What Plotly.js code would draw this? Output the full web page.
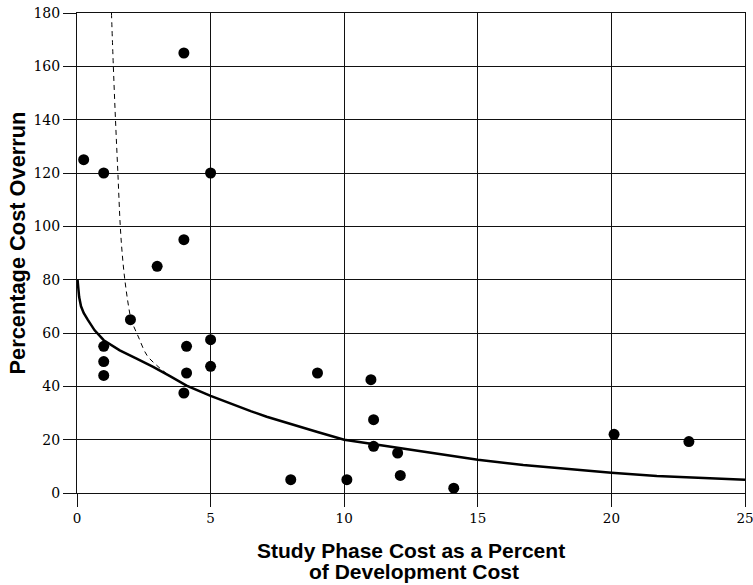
<!DOCTYPE html>
<html>
<head>
<meta charset="utf-8">
<script src="https://cdn.plot.ly/plotly-3.0.1.min.js"></script>
<style>html,body{margin:0;padding:0;background:#fff;}#chart{width:753px;height:585px;}</style>
</head>
<body>
<div id="chart"></div>
<script>
// Observed projects
const pointsX = [0.25, 1.0, 4.0, 5.0, 4.0, 3.0, 2.0, 1.0, 1.0, 1.0, 4.1, 4.1, 4.0, 5.0, 5.0, 9.0, 11.0, 11.1, 11.1, 12.0, 12.1, 8.0, 10.1, 14.1, 20.1, 22.9];
const pointsY = [125, 120, 165, 120, 95, 85, 65, 55, 49.3, 44.1, 55, 45, 37.5, 57.5, 47.5, 45, 42.5, 27.5, 17.5, 15, 6.6, 5, 5, 1.8, 22, 19.3];

// Solid fitted curve
const solidX = [0.02, 0.08, 0.15, 0.25, 0.4, 0.66, 1.0, 1.6, 2.23, 2.85, 3.48, 4.1, 5.0, 5.85, 6.5, 7.1, 8.0, 9.0, 10.0, 11.1, 12.1, 13.5, 15.0, 16.7, 18.3, 20.0, 21.7, 23.3, 25.0];
const solidY = [80, 73.5, 70, 67.5, 65, 61, 57.3, 53.5, 50.4, 47.3, 43.8, 40.3, 36.4, 33, 30.7, 28.6, 25.8, 22.9, 20, 18.3, 16.7, 14.6, 12.5, 10.5, 9, 7.6, 6.4, 5.6, 5.0];

// Dashed curve
const dashX = [1.29, 1.36, 1.44, 1.53, 1.62, 1.69, 1.79, 1.93, 2.03, 2.3, 2.62, 2.98, 3.35, 3.85, 4.2];
const dashY = [180, 160, 140, 120, 100, 90, 80, 70, 65, 58.5, 51.6, 47.9, 44.8, 41.6, 39.8];

const xTicks = [0, 5, 10, 15, 20, 25];
const yTicks = [0, 20, 40, 60, 80, 100, 120, 140, 160, 180];

const xTitleLines = ['Study Phase Cost as a Percent', 'of Development Cost'];
const yTitle = 'Percentage Cost Overrun';

const traces = [
  {x: dashX, y: dashY, mode: 'lines', line: {color: '#000', width: 1, dash: '5px,4px', shape: 'spline', smoothing: 1}, hoverinfo: 'skip'},
  {x: solidX, y: solidY, mode: 'lines', line: {color: '#000', width: 2.5, shape: 'linear'}, hoverinfo: 'skip'},
  {x: pointsX, y: pointsY, mode: 'markers', marker: {color: '#000', size: 11}}
];

const tickFont = {family: 'DejaVu Serif', size: 14, color: '#000'};

const axisCommon = {
  showgrid: true, gridcolor: '#111', gridwidth: 1,
  zeroline: false,
  showline: true, linecolor: '#111', linewidth: 1, mirror: true,
  ticks: 'outside', ticklen: 13, tickcolor: '#111', tickwidth: 1,
  tickfont: tickFont, ticklabeloverflow: 'allow'
};

const titleFont = {family: 'Liberation Sans', color: '#000', weight: 'bold'};

const layout = {
  width: 753, height: 585,
  margin: {l: 77, r: 8, t: 13, b: 92},
  paper_bgcolor: '#fff', plot_bgcolor: '#fff',
  showlegend: false,
  xaxis: Object.assign({}, axisCommon, {
    range: [0, 25], tickvals: xTicks, ticktext: xTicks.map(String),
    tickfont: {family: 'DejaVu Serif', size: 13.5, color: '#000'}
  }),
  yaxis: Object.assign({}, axisCommon, {
    range: [0, 180], tickvals: yTicks, ticktext: yTicks.map(String)
  }),
  annotations: [
    {text: xTitleLines[0], xref: 'paper', yref: 'paper', x: 0.5, y: 0, xanchor: 'center', yanchor: 'middle',
     yshift: -(550 - 493), showarrow: false, font: Object.assign({size: 21}, titleFont)},
    {text: xTitleLines[1], xref: 'paper', yref: 'paper', x: 0.5, y: 0, xanchor: 'center', yanchor: 'middle',
     xshift: 3, yshift: -(571 - 493), showarrow: false, font: Object.assign({size: 21}, titleFont)},
    {text: yTitle, xref: 'paper', yref: 'paper', x: 0, y: 0.5, xanchor: 'center', yanchor: 'middle',
     xshift: -(77 - 16.5), yshift: 10, textangle: -90, showarrow: false, font: Object.assign({size: 21.8}, titleFont)}
  ]
};

Plotly.newPlot('chart', traces, layout, {displayModeBar: false, staticPlot: true});
</script>
</body>
</html>
